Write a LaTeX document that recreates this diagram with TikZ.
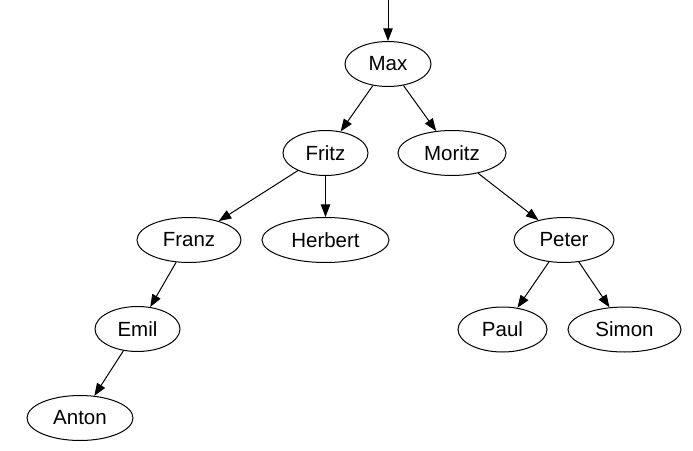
\documentclass[tikz,border=0pt]{standalone}
\usepackage{fontspec}
\setmainfont{Liberation Sans}
\usetikzlibrary{shapes.geometric,arrows.meta}
\tikzset{
  tnode/.style={draw, ellipse, line width=0.8pt, minimum height=36pt, inner sep=0pt, font=\fontsize{16.4pt}{18pt}\selectfont},
  edge/.style={line width=0.8pt, -{Triangle[length=10pt,width=7.5pt]}, shorten >=0pt}
}
\begin{document}
\begin{tikzpicture}[x=0.8pt,y=-0.8pt]
\useasboundingbox (0,0) rectangle (693,451);
\node[tnode, minimum width=68.8pt] (max) at (388,64) {Max};
\node[tnode, minimum width=68pt] (fritz) at (325.5,153) {Fritz};
\node[tnode, minimum width=86.4pt] (moritz) at (452,153) {Moritz};
\node[tnode, minimum width=83.2pt] (franz) at (189,240) {Franz};
\node[tnode, minimum width=101.6pt] (herbert) at (325.5,240) {Herbert};
\node[tnode, minimum width=80pt] (peter) at (564,240) {Peter};
\node[tnode, minimum width=68pt] (emil) at (137.5,329) {Emil};
\node[tnode, minimum width=71.2pt] (paul) at (502.5,329.5) {Paul};
\node[tnode, minimum width=90.4pt] (simon) at (624.5,329.5) {Simon};
\node[tnode, minimum width=84.8pt] (anton) at (80,418) {Anton};
\coordinate (top) at (388,0);
\draw[edge] (top) -- (max);
\draw[edge] (max) -- (fritz);
\draw[edge] (max) -- (moritz);
\draw[edge] (fritz) -- (franz);
\draw[edge] (fritz) -- (herbert);
\draw[edge] (moritz) -- (peter);
\draw[edge] (franz) -- (emil);
\draw[edge] (emil) -- (anton);
\draw[edge] (peter) -- (paul);
\draw[edge] (peter) -- (simon);
\end{tikzpicture}
\end{document}
